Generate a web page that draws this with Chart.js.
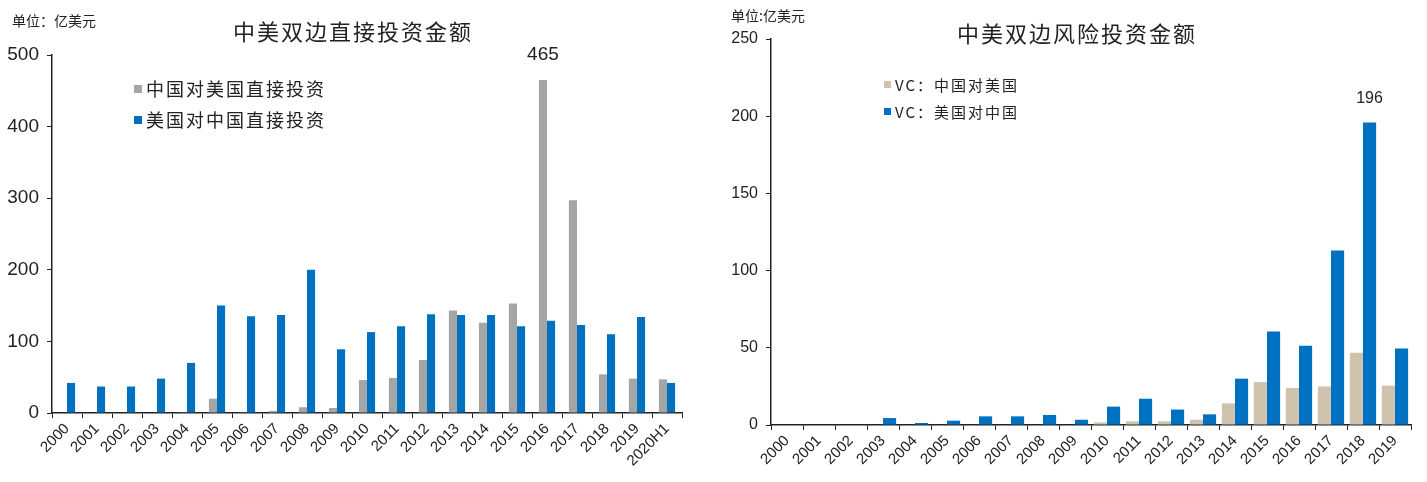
<!DOCTYPE html>
<html>
<head>
<meta charset="utf-8">
<script src="https://cdn.jsdelivr.net/npm/chart.js@4/dist/chart.umd.min.js"></script>
<style>
  body { margin: 0; background: #fff; width: 1427px; height: 482px; overflow: hidden; position: relative; }
  .box { position: absolute; top: 0; height: 482px; }
  .txt { position: absolute; white-space: nowrap; color: #222; font-family: 'Noto Sans CJK SC', sans-serif; }
  .sq { display: inline-block; width: 8px; height: 8px; margin-right: 4px; vertical-align: middle; position: relative; top: -2px; }
</style>
</head>
<body>
<div class="box" style="left:0;width:700px;"><canvas id="left" width="700" height="482"></canvas></div>
<div class="box" style="left:700px;width:727px;"><canvas id="right" width="727" height="482"></canvas></div>

<div class="txt" style="left:12px;top:10px;font-size:14px;">单位：亿美元</div>
<div class="txt" style="left:233px;top:14px;font-size:22px;letter-spacing:2px;">中美双边直接投资金额</div>
<div class="txt" style="left:134px;top:75px;font-size:18px;letter-spacing:2px;"><span class="sq" style="background:#a5a5a5"></span>中国对美国直接投资</div>
<div class="txt" style="left:134px;top:106px;font-size:18px;letter-spacing:2px;"><span class="sq" style="background:#0070c0"></span>美国对中国直接投资</div>

<div class="txt" style="left:731px;top:5px;font-size:14px;">单位:亿美元</div>
<div class="txt" style="left:957px;top:16px;font-size:22px;letter-spacing:2px;">中美双边风险投资金额</div>
<div class="txt" style="left:884px;top:74px;font-size:15px;letter-spacing:2px;"><span class="sq" style="background:#d0c3ae;width:7px;height:7px"></span>VC：中国对美国</div>
<div class="txt" style="left:884px;top:101px;font-size:15px;letter-spacing:2px;"><span class="sq" style="background:#0070c0;width:7px;height:7px"></span>VC：美国对中国</div>

<script>
const fdiYears = ['2000', '2001', '2002', '2003', '2004', '2005', '2006', '2007', '2008', '2009', '2010',
  '2011', '2012', '2013', '2014', '2015', '2016', '2017', '2018', '2019', '2020H1'];
const chinaToUs = [0, 0, 0, 0, 1, 20, 1, 3, 8, 7, 46, 49, 74, 143, 126, 153, 465, 297, 54, 48, 47];
const usToChina = [42, 37, 37, 48, 70, 150, 135, 137, 200, 89, 113, 121, 138, 137, 137, 121, 129, 123, 110, 134, 42];
const fdiTicks = [0, 100, 200, 300, 400, 500];

const vcYears = ['2000', '2001', '2002', '2003', '2004', '2005', '2006', '2007', '2008', '2009',
  '2010', '2011', '2012', '2013', '2014', '2015', '2016', '2017', '2018', '2019'];
const vcChinaToUs = [0, 0, 0, 0, 0, 0, 0, 0, 0, 0, 1.7, 2.4, 2.4, 3.4, 14, 27.8, 24, 25, 46.8, 25.5];
const vcUsToChina = [0, 0, 0, 4.5, 1.3, 2.8, 5.6, 5.6, 6.5, 3.4, 11.9, 17, 10, 6.9, 30, 60.6, 51.3, 113, 196, 49.6];
const vcTicks = [0, 50, 100, 150, 200, 250];

const numFont = "'Liberation Sans Narrow', 'Liberation Sans', Arial, sans-serif";
const axisColor = '#222';

// draws a single value above one bar
function peakLabel(dsIndex, idx, size) {
  return {
    id: 'peak' + dsIndex,
    afterDatasetsDraw(chart) {
      const bar = chart.getDatasetMeta(dsIndex).data[idx];
      const ctx = chart.ctx;
      ctx.save();
      ctx.font = size + 'px ' + numFont;
      ctx.fillStyle = '#222';
      ctx.textAlign = 'center';
      ctx.textBaseline = 'bottom';
      ctx.fillText(chart.data.datasets[dsIndex].data[idx], bar.x, bar.y - 16);
      ctx.restore();
    }
  };
}

function makeChart(id, labels, sets, ticks, opts) {
  return new Chart(document.getElementById(id), {
    type: 'bar',
    data: { labels: labels, datasets: sets },
    options: {
      responsive: false,
      animation: false,
      layout: { padding: { top: opts.top, right: opts.right, left: 0, bottom: 0 } },
      plugins: { legend: { display: false }, tooltip: { enabled: false } },
      datasets: { bar: { categoryPercentage: opts.cat, barPercentage: 1 } },
      scales: {
        x: {
          grid: { display: true, drawOnChartArea: false, drawTicks: true, tickLength: 5, color: axisColor, offset: true },
          border: { display: true, color: axisColor, width: 1.5 },
          ticks: { autoSkip: false, minRotation: 45, maxRotation: 45, padding: 2, color: '#222',
            font: { family: numFont, size: opts.xSize } },
          afterFit(scale) { scale.height = opts.xHeight; }
        },
        y: {
          min: 0,
          max: ticks[ticks.length - 1],
          afterBuildTicks(scale) { scale.ticks = ticks.map(v => ({ value: v })); },
          grid: { display: true, drawOnChartArea: false, drawTicks: true, tickLength: 5, color: axisColor },
          border: { display: true, color: axisColor, width: 1.5 },
          ticks: { padding: 8, color: '#222', font: { family: numFont, size: opts.ySize } },
          afterFit(scale) { scale.width = opts.yWidth; }
        }
      }
    },
    plugins: [opts.label]
  });
}

makeChart('left', fdiYears, [
  { label: '中国对美国直接投资', data: chinaToUs, backgroundColor: '#a5a5a5' },
  { label: '美国对中国直接投资', data: usToChina, backgroundColor: '#0070c0' }
], fdiTicks, { top: 55, right: 18, cat: 0.54, xHeight: 69, yWidth: 52, xSize: 15, ySize: 19,
  label: peakLabel(0, 16, 19) });

makeChart('right', vcYears, [
  { label: 'VC：中国对美国', data: vcChinaToUs, backgroundColor: '#d0c3ae' },
  { label: 'VC：美国对中国', data: vcUsToChina, backgroundColor: '#0070c0' }
], vcTicks, { top: 39, right: 16, cat: 0.82, xHeight: 57, yWidth: 71, xSize: 15, ySize: 16,
  label: peakLabel(1, 18, 16) });
</script>
</body>
</html>
